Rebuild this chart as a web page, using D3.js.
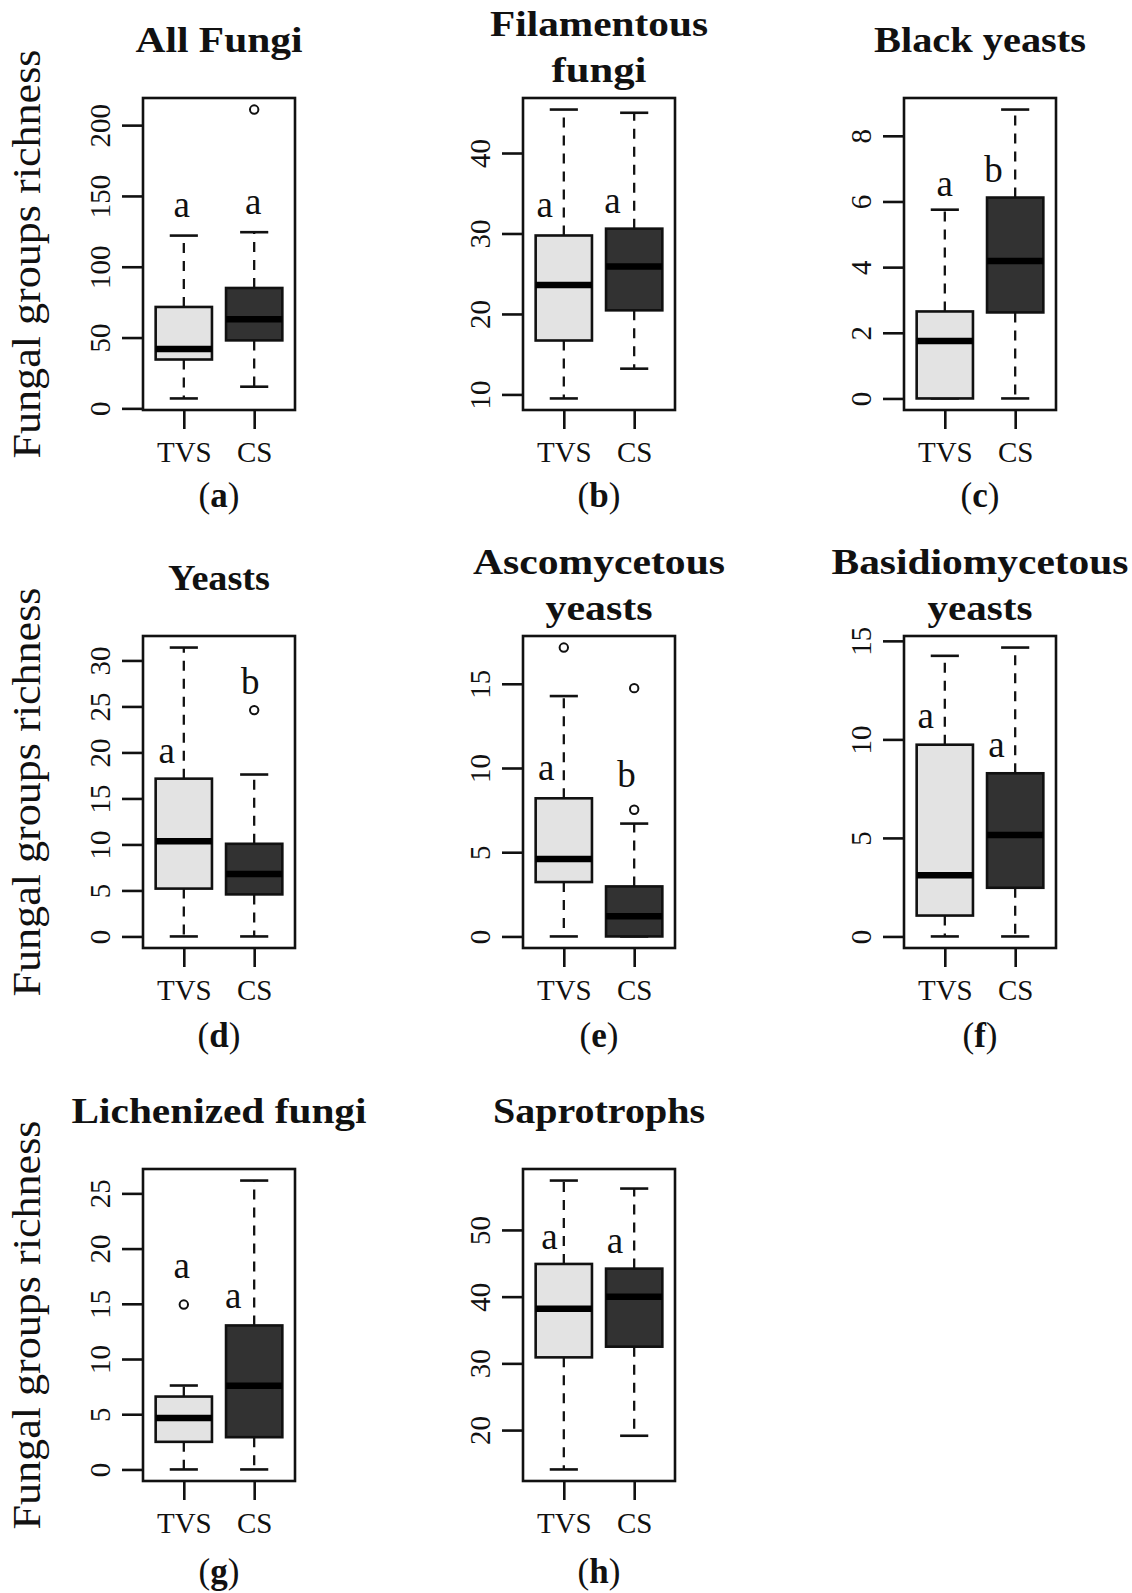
<!DOCTYPE html>
<html>
<head>
<meta charset="utf-8">
<script src="https://cdn.jsdelivr.net/npm/d3@7"></script>
<style>
  html, body { margin: 0; padding: 0; background: #fff; }
  svg text { font-family: "Liberation Serif", "Times New Roman", serif; fill: #111; }
</style>
</head>
<body>
<svg id="chart" width="1132" height="1593"></svg>
<script>
// ---------------- data ----------------
const groups = ["TVS", "CS"];
const panelTags = ["a", "b", "c", "d", "e", "f", "g", "h"];
const titles = [
  ["All Fungi"],
  ["Filamentous", "fungi"],
  ["Black yeasts"],
  ["Yeasts"],
  ["Ascomycetous", "yeasts"],
  ["Basidiomycetous", "yeasts"],
  ["Lichenized fungi"],
  ["Saprotrophs"]
];
// boxplot stats: [lower whisker, Q1, median, Q3, upper whisker]
const tvsStats = [
  [7, 34.5, 42, 71.6, 122],
  [9.5, 16.7, 23.6, 29.75, 45.4],
  [0, 0, 1.75, 2.65, 5.75],
  [0, 5.2, 10.35, 17.15, 31.4],
  [0, 3.23, 4.6, 8.2, 14.27],
  [0, 1.06, 3.1, 9.73, 14.24],
  [0, 2.5, 4.66, 6.6, 7.6],
  [14.1, 30.9, 38.2, 44.9, 57.4]
];
const csStats = [
  [15.3, 48, 63, 85, 124.4],
  [13.2, 20.45, 25.9, 30.6, 45.0],
  [0, 2.62, 4.19, 6.12, 8.8],
  [0, 4.57, 6.8, 10.07, 17.6],
  [0, 0, 1.2, 2.97, 6.7],
  [0, 2.47, 5.15, 8.28, 14.66],
  [0, 2.92, 7.57, 13.04, 26.16],
  [19.15, 32.5, 40.0, 44.2, 56.2]
];
const tvsOutliers = [[], [], [], [], [17.15], [], [14.93], []];
const csOutliers = [[211], [], [], [24.6], [7.52, 14.74], [], [], []];
const tickValues = [
  [0, 50, 100, 150, 200],
  [10, 20, 30, 40],
  [0, 2, 4, 6, 8],
  [0, 5, 10, 15, 20, 25, 30],
  [0, 5, 10, 15],
  [0, 5, 10, 15],
  [0, 5, 10, 15, 20, 25],
  [20, 30, 40, 50]
];
// significance letters and the value at which they sit
const sigLetters = [["a","a"],["a","a"],["a","b"],["a","b"],["a","b"],["a","a"],["a","a"],["a","a"]];
const sigLetterValues = [[135,137.3],[32.1,32.6],[6.17,6.6],[18.9,26.4],[9.26,8.87],[10.6,9.09],[17.3,14.6],[47.1,46.6]];
const yLabel = "Fungal groups richness";

// ---------------- layout (styling) ----------------
const colLeft = [143, 523, 904];
const rowTop = [98, 636, 1169];
const tagOffset = [97, 99, 102];
const W = 152, H = 312;
const letterNudge = [[-2,-1],[-19,-21.6],[0,-21.7],[-17,-4],[-17.7,-7.6],[-19,-18.7],[-2,-21],[-14.4,-19.3]];
const titleWidths = [[167],[218,95],[212],[102],[252,107],[297,105],[295],[212]];
const fillColors = {TVS: "#e3e3e3", CS: "#323232"};

const svg = d3.select("#chart");

panelTags.forEach((tag, i) => {
  const col = i % 3, row = Math.floor(i / 3);
  const g = svg.append("g").attr("transform", `translate(${colLeft[col]},${rowTop[row]})`);

  const x = d3.scalePoint().domain(groups).range([0, W]).padding(0.58);
  const statsByGroup = {TVS: tvsStats[i], CS: csStats[i]};
  const outByGroup = {TVS: tvsOutliers[i], CS: csOutliers[i]};
  const allVals = [...tvsStats[i], ...csStats[i], ...tvsOutliers[i], ...csOutliers[i]];
  const lo = d3.min(allVals), hi = d3.max(allVals);
  const pad = 0.04 * (hi - lo);
  const y = d3.scaleLinear().domain([lo - pad, hi + pad]).range([H, 0]);

  const boxW = 0.8 * x.step();
  const stapleW = 0.5 * boxW;

  groups.forEach(grp => {
    const s = statsByGroup[grp];
    const cx = x(grp);
    // whiskers
    g.append("line").attr("x1", cx).attr("x2", cx).attr("y1", y(s[3])).attr("y2", y(s[4]))
      .attr("stroke", "#111").attr("stroke-width", 2.3).attr("stroke-dasharray", "10,8");
    g.append("line").attr("x1", cx).attr("x2", cx).attr("y1", y(s[1])).attr("y2", y(s[0]))
      .attr("stroke", "#111").attr("stroke-width", 2.3).attr("stroke-dasharray", "10,8");
    // staples
    [s[0], s[4]].forEach(v => {
      g.append("line").attr("x1", cx - stapleW / 2).attr("x2", cx + stapleW / 2)
        .attr("y1", y(v)).attr("y2", y(v)).attr("stroke", "#111").attr("stroke-width", 2.6);
    });
    // box
    g.append("rect").attr("x", cx - boxW / 2).attr("width", boxW)
      .attr("y", y(s[3])).attr("height", Math.max(0, y(s[1]) - y(s[3])))
      .attr("fill", fillColors[grp]).attr("stroke", "#111").attr("stroke-width", 2.6);
    // median
    g.append("line").attr("x1", cx - boxW / 2).attr("x2", cx + boxW / 2)
      .attr("y1", y(s[2])).attr("y2", y(s[2])).attr("stroke", "#000").attr("stroke-width", 6.5);
    // outliers
    outByGroup[grp].forEach(v => {
      g.append("circle").attr("cx", cx).attr("cy", y(v)).attr("r", 4.2)
        .attr("fill", "none").attr("stroke", "#111").attr("stroke-width", 2);
    });
  });

  // significance letters
  groups.forEach((grp, k) => {
    g.append("text").attr("x", x(grp) + letterNudge[i][k]).attr("y", y(sigLetterValues[i][k]))
      .attr("text-anchor", "middle").attr("font-size", 37).text(sigLetters[i][k]);
  });

  // frame
  g.append("rect").attr("x", 0).attr("y", 0).attr("width", W).attr("height", H)
    .attr("fill", "none").attr("stroke", "#111").attr("stroke-width", 2.6);

  // y axis
  const ya = g.append("g").call(d3.axisLeft(y).tickValues(tickValues[i]).tickSize(21).tickSizeOuter(0));
  ya.select(".domain").remove();
  ya.selectAll(".tick line").attr("stroke", "#111").attr("stroke-width", 2.6);
  ya.selectAll(".tick text")
    .attr("x", null).attr("dy", null)
    .attr("transform", "translate(-33,0) rotate(-90)")
    .attr("text-anchor", "middle")
    .attr("font-size", 29).attr("font-family", "Liberation Serif, serif").attr("fill", "#222");

  // x axis
  const xa = g.append("g").attr("transform", `translate(0,${H})`)
    .call(d3.axisBottom(x).tickSize(19).tickSizeOuter(0));
  xa.select(".domain").remove();
  xa.selectAll(".tick line").attr("stroke", "#111").attr("stroke-width", 2.6);
  xa.selectAll(".tick text").attr("y", 52).attr("dy", null)
    .attr("font-size", 29).attr("font-family", "Liberation Serif, serif").attr("fill", "#222");

  // title
  const lines = titles[i];
  const offsets = lines.length === 1 ? [-46] : [-62, -16];
  lines.forEach((ln, k) => {
    g.append("text").attr("x", W / 2).attr("y", offsets[k]).attr("text-anchor", "middle")
      .attr("font-size", 36).attr("font-weight", "bold")
      .attr("textLength", titleWidths[i][k]).attr("lengthAdjust", "spacingAndGlyphs")
      .text(ln);
  });

  // panel tag
  const t = g.append("text").attr("x", W / 2).attr("y", H + tagOffset[row])
    .attr("text-anchor", "middle").attr("font-size", 35);
  t.append("tspan").text("(");
  t.append("tspan").attr("font-weight", "bold").text(tag);
  t.append("tspan").text(")");

  // y label on left column
  if (col === 0) {
    svg.append("text")
      .attr("transform", `translate(40,${rowTop[row] + H / 2}) rotate(-90)`)
      .attr("text-anchor", "middle").attr("font-size", 40)
      .attr("textLength", 409).attr("lengthAdjust", "spacingAndGlyphs")
      .text(yLabel);
  }
});
</script>
</body>
</html>
